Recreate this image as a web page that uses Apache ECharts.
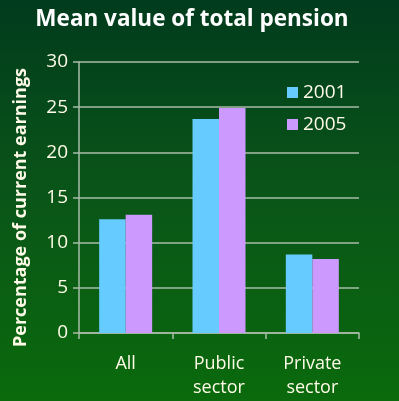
<!DOCTYPE html>
<html>
<head>
<meta charset="utf-8">
<script src="https://cdn.jsdelivr.net/npm/echarts@6/dist/echarts.min.js"></script>
<style>
  html, body { margin: 0; padding: 0; }
  #chart { width: 399px; height: 401px; }
</style>
</head>
<body>
<div id="chart"></div>
<script>
const categories = ['All', 'Public\nsector', 'Private\nsector'];
const values2001 = [12.6, 23.7, 8.7];
const values2005 = [13.1, 24.9, 8.2];
const yTicks = { min: 0, max: 30, interval: 5 };

const chart = echarts.init(document.getElementById('chart'));
const font = '"Open Sans", "Noto Sans", sans-serif';
const textColor = '#fffbe8';

chart.setOption({
    backgroundColor: new echarts.graphic.LinearGradient(0, 0, 0, 1, [
        { offset: 0, color: '#013b1d' },
        { offset: 0.5, color: '#0a5618' },
        { offset: 1, color: '#0a6a0c' }
    ]),
    animation: false,
    title: {
        text: 'Mean value of total pension',
        left: 187,
        textAlign: 'center',
        top: 3,
        textStyle: { color: '#ffffff', fontSize: 22.5, fontWeight: 'bold', fontFamily: font }
    },
    legend: {
        data: ['2001', '2005'],
        orient: 'vertical',
        left: 282,
        top: 78,
        itemWidth: 11,
        itemHeight: 11,
        itemGap: 13,
        icon: 'rect',
        textStyle: { color: textColor, fontSize: 19, fontFamily: font }
    },
    grid: { left: 79, right: 40, top: 62, bottom: 68, outerBoundsMode: 'none', containLabel: false },
    xAxis: {
        type: 'category',
        data: categories,
        axisLine: { lineStyle: { color: '#a8bca8', width: 1.5 } },
        axisTick: { show: true, length: 6, lineStyle: { color: '#a8bca8', width: 1.5 } },
        axisLabel: {
            color: textColor, fontSize: 18, fontFamily: font,
            lineHeight: 24, margin: 19
        }
    },
    yAxis: {
        type: 'value',
        min: yTicks.min,
        max: yTicks.max,
        interval: yTicks.interval,
        name: 'Percentage of current earnings',
        nameLocation: 'middle',
        nameGap: 49,
        nameTextStyle: {
            color: textColor, fontSize: 18, fontWeight: 'bold', fontFamily: font,
            padding: [0, 20, 0, 0]
        },
        axisLine: { show: true, lineStyle: { color: '#a8bca8', width: 1.5 } },
        axisTick: { show: true, length: 6, lineStyle: { color: '#a8bca8', width: 1.5 } },
        axisLabel: { color: textColor, fontSize: 19, fontFamily: font, margin: 11 },
        splitLine: { lineStyle: { color: '#a8bca8', width: 1.5 } }
    },
    series: [
        {
            name: '2001',
            type: 'bar',
            data: values2001,
            barWidth: 26.5,
            barGap: '0%',
            itemStyle: { color: '#66ccff' }
        },
        {
            name: '2005',
            type: 'bar',
            data: values2005,
            barWidth: 26.5,
            barGap: '0%',
            itemStyle: { color: '#cc99ff' }
        }
    ]
});
</script>
</body>
</html>
